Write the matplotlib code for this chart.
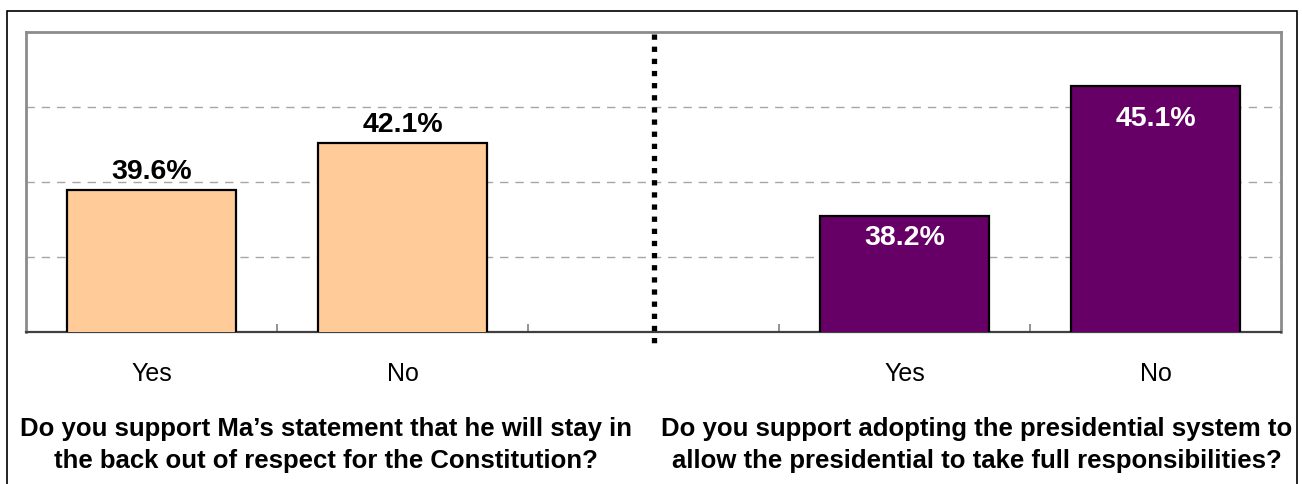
import matplotlib
matplotlib.use("Agg")
import matplotlib.pyplot as plt
from matplotlib.patches import Rectangle

# ---- data ----
categories = ["Yes", "No", "", "Yes", "No"]
ma_labels = ["Yes", "No"]
ma_values = [39.6, 42.1]
pres_labels = ["Yes", "No"]
pres_values = [38.2, 45.1]
questions = [
    "Do you support Ma\u2019s statement that he will stay in\nthe back out of respect for the Constitution?",
    "Do you support adopting the presidential system to\nallow the presidential to take full responsibilities?",
]
y_min, y_max = 32, 48
grid_values = [36, 40, 44]

plt.rcParams['font.family'] = ['Liberation Sans', 'DejaVu Sans']

fig = plt.figure(figsize=(13.02, 4.85), dpi=100)
W, H = 1302, 485
ax = fig.add_axes([26 / W, 1 - 333 / H, (1281 - 26) / W, (333 - 33) / H])

ma_x = [0, 1]
pres_x = [3, 4]
bw = 0.67
ax.bar(ma_x, ma_values, width=bw, color="#FFCC99", edgecolor="black", linewidth=1.6, zorder=3)
ax.bar(pres_x, pres_values, width=bw, color="#660066", edgecolor="black", linewidth=1.6, zorder=3)

ax.set_xlim(-0.5, len(categories) - 0.5)
ax.set_ylim(y_min, y_max)

for g in grid_values:
    ax.axhline(g, color="#A6A6A6", linewidth=1.0, linestyle=(0, (6, 5)), zorder=1)

# value labels
for x, v in zip(ma_x, ma_values):
    ax.annotate(f"{v:.1f}%", (x, v), xytext=(0, 4), textcoords="offset points",
                ha="center", va="bottom", fontsize=20.5, fontweight="bold", color="black", zorder=5)
pres_offsets = [-15, -23]
for x, v, off in zip(pres_x, pres_values, pres_offsets):
    ax.annotate(f"{v:.1f}%", (x, v), xytext=(0, off), textcoords="offset points",
                ha="center", va="center", fontsize=20.5, fontweight="bold", color="white", zorder=5)

# ticks
ax.set_yticks([])
ax.set_xticks([i + 0.5 for i in range(len(categories) - 1)])
ax.set_xticklabels([])
ax.tick_params(axis="x", which="major", direction="in", length=6, width=1.2, color="#808080")
ax.set_xticks(range(len(categories)), minor=True)
ax.set_xticklabels(categories, minor=True, fontsize=18)
ax.tick_params(axis="x", which="minor", length=0, pad=21)

for s in ["left", "top", "right"]:
    ax.spines[s].set_color("#8C8C8C")
    ax.spines[s].set_linewidth(2)
ax.spines["bottom"].set_color("#404040")
ax.spines["bottom"].set_linewidth(1.6)

# dotted divider
ax.plot([2, 2], [y_max - 0.1, y_min - 0.65], color="black", linewidth=3.8,
        linestyle=(0, (1, 1.3)), solid_capstyle="butt", dash_capstyle="butt",
        clip_on=False, zorder=6)

# questions
fig.text(0.25, 1 - 445 / H, questions[0], ha="center", va="center", fontsize=18.5,
         fontweight="bold", linespacing=1.42)
fig.text(0.75, 1 - 445 / H, questions[1], ha="center", va="center", fontsize=18.5,
         fontweight="bold", linespacing=1.42)

# outer frame
fig.patches.append(Rectangle((7 / W, -0.02), (1297 - 7) / W, 1 - 12 / H + 0.02,
                             transform=fig.transFigure, fill=False,
                             edgecolor="black", linewidth=1.2))

fig.savefig("out.png", dpi=100)
